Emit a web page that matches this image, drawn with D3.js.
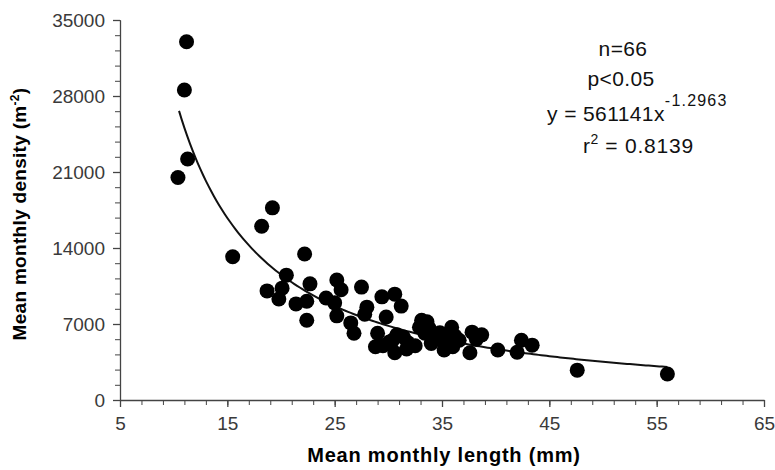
<!DOCTYPE html>
<html>
<head>
<meta charset="utf-8">
<script src="https://cdn.jsdelivr.net/npm/d3@7"></script>
<style>
body { margin: 0; background: #fff; }
text { font-family: "Liberation Sans", Arial, sans-serif; }
</style>
</head>
<body>
<div id="chart"></div>
<script>
// mean monthly length (mm) and density (m-2)
const lengths = [11.2, 11.0, 11.3, 10.4, 19.2, 18.2, 15.5, 22.2, 20.5, 18.7,
    20.1, 19.8, 21.4, 22.7, 22.4, 22.4, 25.2, 25.6, 24.2, 25.0,
    25.2, 26.5, 26.8, 27.5, 28.0, 29.4, 30.6, 31.2, 29.8, 29.0,
    28.8, 30.1, 30.6, 30.4, 31.4, 31.7, 32.9, 33.1, 33.6, 33.4,
    34.5, 35.4, 35.9, 35.0, 35.2, 36.6, 37.6, 37.8, 38.7, 40.2,
    42.0, 42.4, 43.4, 47.6, 56.0, 31.8, 32.5, 34.0, 36.0, 33.8,
    29.5, 36.2, 30.8, 27.8, 34.8, 38.2];
const densities = [33000, 28550, 22200, 20500, 17700, 16000, 13200, 13450, 11500, 10050,
    10300, 9300, 8850, 10700, 9100, 7350, 11050, 10150, 9400, 8950,
    7750, 7100, 6150, 10400, 8550, 9500, 9750, 8650, 7650, 6150,
    4900, 5350, 4350, 5500, 5800, 4700, 6700, 7350, 7200, 6150,
    5800, 5550, 6700, 5500, 4600, 5500, 4350, 6250, 6000, 4600,
    4400, 5500, 5050, 2750, 2400, 5300, 5000, 5200, 4900, 6600,
    5000, 5900, 6000, 7900, 6200, 5600];

const xTicks = [5, 15, 25, 35, 45, 55, 65];
const yTicks = [0, 7000, 14000, 21000, 28000, 35000];

// power fit y = a * x^b
const fitA = 561141;
const fitB = -1.2963;
const fitRange = [10.5, 56];

const width = 775, height = 470;
const plotLeft = 120, plotRight = 764, plotTop = 20, plotBottom = 400;

const svg = d3.select("#chart").append("svg")
    .attr("width", width)
    .attr("height", height);

const x = d3.scaleLinear().domain([5, 65]).range([plotLeft, plotRight]);
const y = d3.scaleLinear().domain([0, 35000]).range([plotBottom, plotTop]);

// minor ticks
svg.append("g")
    .attr("transform", `translate(0,${plotBottom})`)
    .call(d3.axisBottom(x).tickValues(d3.range(5, 66, 2)).tickSize(5).tickFormat(""))
    .call(g => g.selectAll("line,path").attr("stroke", "#444"));
svg.append("g")
    .attr("transform", `translate(${plotLeft},0)`)
    .call(d3.axisLeft(y).tickValues(d3.range(0, 35001, 1400)).tickSize(5).tickFormat(""))
    .call(g => g.selectAll("line,path").attr("stroke", "#444"));

// major ticks
svg.append("g")
    .attr("transform", `translate(0,${plotBottom})`)
    .call(d3.axisBottom(x).tickValues(xTicks).tickFormat(d3.format("d"))
        .tickSize(7).tickSizeOuter(0).tickPadding(10))
    .call(g => g.selectAll("line,path").attr("stroke", "#444").attr("stroke-width", 1.3))
    .call(g => g.selectAll("text").attr("font-size", 19).attr("fill", "#3a3a3a")
        .attr("font-family", "Liberation Sans, Arial, sans-serif"));
svg.append("g")
    .attr("transform", `translate(${plotLeft},0)`)
    .call(d3.axisLeft(y).tickValues(yTicks).tickFormat(d3.format("d"))
        .tickSize(7).tickSizeOuter(0).tickPadding(8))
    .call(g => g.selectAll("line,path").attr("stroke", "#444").attr("stroke-width", 1.3))
    .call(g => g.selectAll("text").attr("font-size", 19).attr("fill", "#3a3a3a")
        .attr("font-family", "Liberation Sans, Arial, sans-serif"));

// fitted curve
const curveX = d3.range(fitRange[0], fitRange[1] + 0.01, 0.25);
svg.append("path")
    .datum(curveX)
    .attr("fill", "none")
    .attr("stroke", "#111")
    .attr("stroke-width", 2)
    .attr("d", d3.line().x(d => x(d)).y(d => y(fitA * Math.pow(d, fitB))));

// points
svg.append("g")
    .selectAll("circle")
    .data(lengths.map((v, i) => [v, densities[i]]))
    .enter().append("circle")
    .attr("cx", d => x(d[0]))
    .attr("cy", d => y(d[1]))
    .attr("r", 7.5)
    .attr("fill", "#000");

// axis titles
svg.append("text")
    .attr("x", 444)
    .attr("y", 462)
    .attr("text-anchor", "middle")
    .attr("font-size", 20)
    .attr("font-weight", "bold")
    .attr("letter-spacing", 0.8)
    .text("Mean monthly length (mm)");

const yTitle = svg.append("text")
    .attr("transform", "translate(26,214) rotate(-90)")
    .attr("text-anchor", "middle")
    .attr("font-size", 19)
    .attr("font-weight", "bold")
    .attr("letter-spacing", 0.3);
yTitle.append("tspan").text("Mean monthly density (m");
yTitle.append("tspan").attr("dy", -7).attr("font-size", 12).text("-2");
yTitle.append("tspan").attr("dy", 7).text(")");

// statistics box
const note = svg.append("g").attr("font-size", 21).attr("fill", "#111").attr("letter-spacing", 0.4);
note.append("text").attr("x", 623).attr("y", 56).attr("text-anchor", "middle").text("n=66");
note.append("text").attr("x", 621).attr("y", 86).attr("text-anchor", "middle").text("p<0.05");
const eq = note.append("text").attr("x", 547).attr("y", 121);
eq.append("tspan").text("y = 561141x");
eq.append("tspan").attr("dy", -15).attr("font-size", 16).attr("letter-spacing", 1.2).text("-1.2963");
const r2 = note.append("text").attr("x", 583).attr("y", 153);
r2.append("tspan").text("r");
r2.append("tspan").attr("dy", -9).attr("font-size", 14).text("2");
r2.append("tspan").attr("dy", 9).attr("letter-spacing", 0.8).text(" = 0.8139");
</script>
</body>
</html>
